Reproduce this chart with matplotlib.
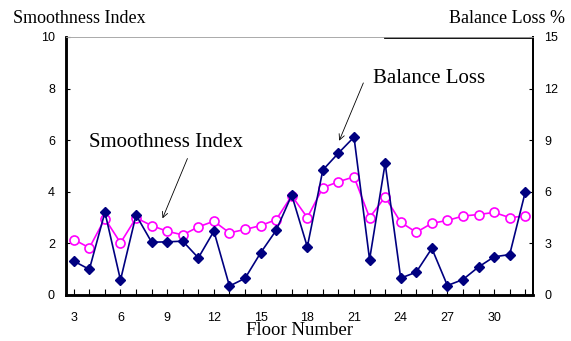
import matplotlib
matplotlib.use('Agg')
import matplotlib.pyplot as plt

floors = list(range(3, 33))

# smoothness index (left axis)
smoothness = [2.15, 1.83, 2.96, 2.02, 2.99, 2.69, 2.47, 2.33, 2.64, 2.86,
              2.41, 2.54, 2.69, 2.92, 3.85, 3.00, 4.16, 4.39, 4.58, 3.00,
              3.80, 2.82, 2.43, 2.78, 2.89, 3.06, 3.12, 3.20, 3.00, 3.06]

# balance loss % (right axis)
balance_loss = [1.97, 1.49, 4.81, 0.87, 4.65, 3.07, 3.09, 3.13, 2.16, 3.71,
                0.52, 0.97, 2.45, 3.76, 5.81, 2.80, 7.27, 8.25, 9.18, 2.06,
                7.65, 0.98, 1.33, 2.71, 0.55, 0.90, 1.63, 2.22, 2.35, 5.98]

serif = 'Liberation Serif'
plt.rcParams['font.family'] = 'Liberation Sans'

fig = plt.figure(figsize=(5.71, 3.41), dpi=100)
ax = fig.add_axes([0.1156, 0.1349, 0.8179, 0.7566])
ax2 = ax.twinx()

ax.plot(floors, smoothness, '-o', color='#ff00ff', lw=1.2, ms=6.5,
        mfc='white', mec='#ff00ff', mew=1.2, zorder=3)
ax2.plot(floors, balance_loss, '-D', color='#000080', lw=1.2, ms=5,
         mfc='#000080', mec='#000080', zorder=4)

ax.set_xlim(2.5, 32.5)
ax.set_ylim(0, 10)
ax2.set_ylim(0, 15)
ax.set_yticks([0, 2, 4, 6, 8, 10])
ax2.set_yticks([0, 3, 6, 9, 12, 15])
ax.set_xticks(range(3, 33, 3))
ax.set_xticks(range(3, 33), minor=True)

ax.tick_params(axis='both', which='both', direction='in', labelsize=9, pad=6)
ax.tick_params(axis='x', which='both', length=4, width=0.8, pad=12)
ax.tick_params(axis='y', length=3, width=0.8, pad=8)
ax2.tick_params(axis='y', direction='in', length=3, width=0.8, labelsize=9, pad=8)

for a in (ax, ax2):
    a.spines['left'].set_linewidth(1.8)
    a.spines['bottom'].set_linewidth(1.8)
    a.spines['right'].set_linewidth(1.3)
    a.spines['top'].set_linewidth(0.6)
    a.spines['top'].set_color('#aaaaaa')
ax.plot([0.683, 0.995], [0.997, 0.997], transform=ax.transAxes, color='black',
        lw=1.3, clip_on=False, zorder=5)

fig.text(0.023, 0.947, 'Smoothness Index', family=serif, fontsize=13,
         va='center', ha='left')
fig.text(0.99, 0.947, 'Balance Loss %', family=serif, fontsize=13,
         va='center', ha='right')
ax.set_xlabel('Floor Number', family=serif, fontsize=13.5, labelpad=-1)

ax.text(3.95, 5.91, 'Smoothness Index', family=serif, fontsize=15,
        ha='left', va='center')
ax.annotate('', xy=(8.7, 2.97), xytext=(10.3, 5.29),
            arrowprops=dict(arrowstyle='->', color='black', lw=0.6,
                            shrinkA=0, shrinkB=0))
ax.text(22.2, 8.38, 'Balance Loss', family=serif, fontsize=15,
        ha='left', va='center')
ax.annotate('', xy=(20.05, 5.98), xytext=(21.6, 8.22),
            arrowprops=dict(arrowstyle='->', color='black', lw=0.6,
                            shrinkA=0, shrinkB=0))

fig.savefig('out.png', dpi=100)
